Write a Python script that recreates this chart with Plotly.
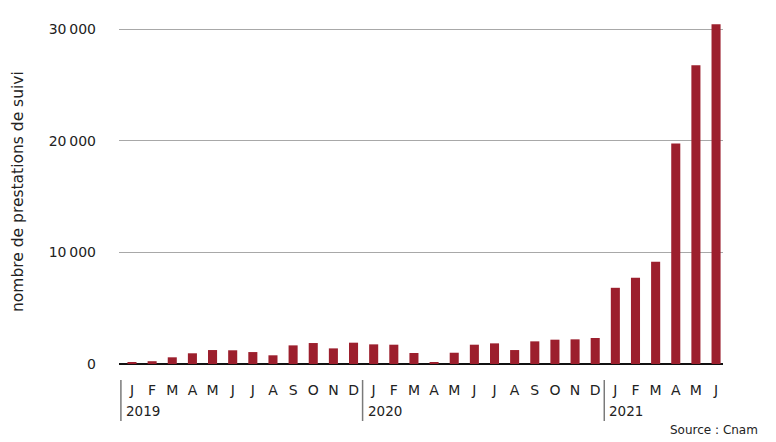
import plotly.graph_objects as go

years = ["2019", "2020", "2021"]
month_letters = ["J", "F", "M", "A", "M", "J", "J", "A", "S", "O", "N", "D"]
periods = (["2019-%02d" % m for m in range(1, 13)]
           + ["2020-%02d" % m for m in range(1, 13)]
           + ["2021-%02d" % m for m in range(1, 7)])
tick_labels = month_letters + month_letters + month_letters[:6]
values = [180, 250, 600, 960, 1250, 1230, 1070, 780, 1670, 1880, 1400, 1910,
          1760, 1730, 985, 120, 1010, 1730, 1850, 1250, 2030, 2180, 2210, 2330,
          6830, 7730, 9160, 19770, 26770, 30450]
y_ticks = [0, 10000, 20000, 30000]
y_tick_text = ["0", "10\u2009000", "20\u2009000", "30\u2009000"]
year_start_index = [0, 12, 24]

FONT = "DejaVu Sans"
BAR = "#9c1f2d"
TXT = "#222222"

fig = go.Figure(go.Bar(x=periods, y=values, marker_color=BAR,
                       marker_line_width=0, hoverinfo="skip"))

shapes = []
annotations = []
for yr, idx in zip(years, year_start_index):
    xd = idx - 0.55
    shapes.append(dict(type="line", xref="x", yref="paper", ysizemode="pixel",
                       yanchor=0, x0=xd, x1=xd, y0=-16, y1=-57,
                       line=dict(color="#7a7a7a", width=1.5)))
    annotations.append(dict(text=yr, xref="x", yref="paper", x=xd, y=0,
                            xanchor="left", yanchor="middle", xshift=3,
                            yshift=-47, showarrow=False,
                            font=dict(family=FONT, size=13.5, color=TXT)))

annotations.append(dict(text="nombre de prestations de suivi", xref="paper",
                        yref="paper", x=0, y=0.5, xshift=-101, textangle=-90,
                        xanchor="center", yanchor="middle", showarrow=False,
                        font=dict(family=FONT, size=15.5, color=TXT)))
annotations.append(dict(text="Source : Cnam", xref="paper", yref="paper",
                        x=1, y=0, xanchor="right", yanchor="middle",
                        xshift=37, yshift=-66, showarrow=False,
                        font=dict(family=FONT, size=12, color=TXT)))

fig.update_layout(
    width=776, height=442,
    margin=dict(l=119, r=53, t=20, b=78),
    paper_bgcolor="white", plot_bgcolor="white",
    bargap=0.55, showlegend=False,
    font=dict(family=FONT, size=14, color=TXT),
    shapes=shapes, annotations=annotations,
    xaxis=dict(type="category", tickmode="array", tickvals=periods,
               ticktext=tick_labels, range=[-0.645, 29.345],
               showgrid=False, showline=False, ticks="",
               ticklabelstandoff=16, automargin=False,
               tickfont=dict(family=FONT, size=14, color=TXT)),
    yaxis=dict(range=[0, 30833], tickmode="array", tickvals=y_ticks,
               ticktext=y_tick_text, showgrid=True, gridcolor="#a8a8a8",
               gridwidth=1, zeroline=True, zerolinecolor="#111",
               zerolinewidth=1.5, ticks="", ticklabelstandoff=22,
               automargin=False,
               tickfont=dict(family=FONT, size=14, color=TXT)),
)

fig.write_html("out.html", config={"displayModeBar": False},
               post_script="document.body.style.margin='0';"
                           "document.body.style.padding='0';")
